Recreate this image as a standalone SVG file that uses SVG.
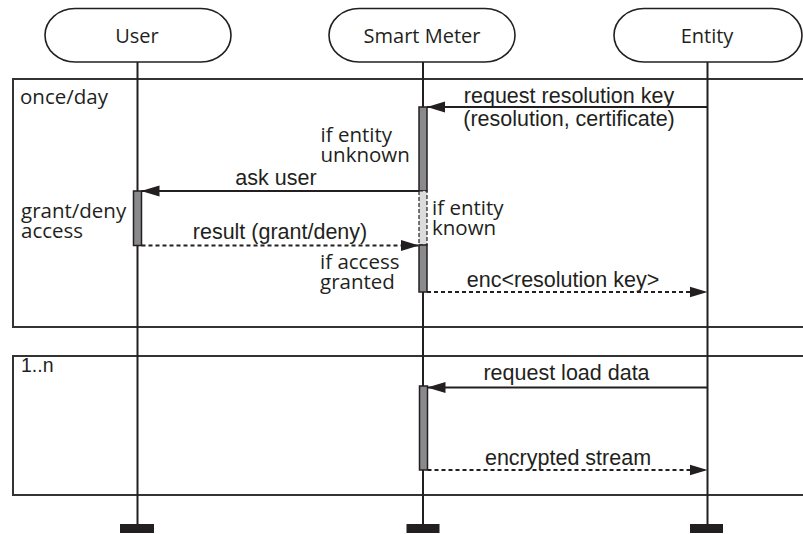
<svg xmlns="http://www.w3.org/2000/svg" width="803" height="534" viewBox="0 0 803 534">
  <style>
    .bg { fill: #ffffff; }
    .pill { fill: #ffffff; stroke: #231f20; stroke-width: 1.6; }
    .frame { fill: none; stroke: #333333; stroke-width: 2; }
    .life { stroke: #231f20; stroke-width: 2; fill: none; }
    .end { fill: #231f20; }
    .act { fill: #8a8a8c; stroke: #231f20; stroke-width: 1.5; }
    .act-opt { fill: #dcdcdc; stroke: #231f20; stroke-width: 1.2; stroke-dasharray: 4 2; }
    .msg { stroke: #231f20; stroke-width: 2; fill: none; marker-end: url(#head); }
    .ret { stroke: #231f20; stroke-width: 2; fill: none; stroke-dasharray: 4 3; marker-end: url(#head); }
    .title { font-family: "Open Sans", "DejaVu Sans", sans-serif; font-size: 20px; fill: #231f20; text-anchor: middle; }
    .note { font-family: "Open Sans", "DejaVu Sans", sans-serif; font-size: 20.5px; fill: #231f20; }
    .lbl { font-family: "Liberation Sans", Arial, sans-serif; font-size: 21.5px; fill: #231f20; text-anchor: middle; }
    .flbl { font-family: "Liberation Sans", Arial, sans-serif; font-size: 19.5px; fill: #231f20; }
  </style>
  <defs>
    <marker id="head" markerUnits="userSpaceOnUse" markerWidth="18" markerHeight="12" refX="18" refY="6" orient="auto">
      <path d="M0,0.5 L18,6 L0,11.5 Z" fill="#231f20"/>
    </marker>
  </defs>

  <rect class="bg" x="0" y="0" width="803" height="534"/>

  <!-- combined fragments -->
  <g id="frame-once-per-day">
    <path class="frame" d="M805,79 H13 V327 H805"/>
    <text class="note" x="20" y="104">once/day</text>
  </g>
  <g id="frame-repeat">
    <path class="frame" d="M805,356 H13 V495 H805"/>
    <text class="flbl" x="21" y="372">1..n</text>
  </g>

  <!-- participants with lifelines -->
  <g id="user">
    <rect class="pill" x="45" y="8.5" width="186" height="53.5" rx="30" ry="26.75"/>
    <text class="title" x="137" y="43">User</text>
    <line class="life" x1="137.5" y1="62" x2="137.5" y2="527"/>
    <rect class="end" x="120" y="524" width="34" height="9"/>
  </g>
  <g id="smart-meter">
    <rect class="pill" x="329" y="8.5" width="186" height="53.5" rx="30" ry="26.75"/>
    <text class="title" x="422" y="43">Smart Meter</text>
    <line class="life" x1="423" y1="62" x2="423" y2="527"/>
    <rect class="end" x="406.5" y="524" width="33" height="9"/>
  </g>
  <g id="entity">
    <rect class="pill" x="614" y="8.5" width="188" height="53.5" rx="30" ry="26.75"/>
    <text class="title" x="707" y="43">Entity</text>
    <line class="life" x1="707.5" y1="62" x2="707.5" y2="527"/>
    <rect class="end" x="690" y="524" width="33" height="9"/>
  </g>

  <!-- activations -->
  <g id="activations">
    <rect class="act" x="419" y="107" width="8" height="84"/>
    <rect class="act-opt" x="419" y="191" width="8" height="54"/>
    <rect class="act" x="419" y="245" width="8" height="47"/>
    <rect class="act" x="133.5" y="191" width="8" height="54.5"/>
    <rect class="act" x="419.5" y="386" width="8" height="84"/>
  </g>

  <!-- messages -->
  <g id="connectors">
    <line class="msg" x1="707.5" y1="107" x2="427" y2="107"/>
    <line class="msg" x1="419" y1="191" x2="141.5" y2="191"/>
    <line class="ret" x1="141.5" y1="245.5" x2="419" y2="245.5"/>
    <line class="ret" x1="427" y1="292" x2="707.5" y2="292"/>
    <line class="msg" x1="707.5" y1="387.5" x2="427.5" y2="387.5"/>
    <line class="ret" x1="427.5" y1="470" x2="707.5" y2="470"/>
  </g>

  <!-- message labels -->
  <g id="labels">
    <text class="lbl" x="569" y="103">request resolution key</text>
    <text class="lbl" x="569" y="126">(resolution, certificate)</text>
    <text class="lbl" x="276" y="185">ask user</text>
    <text class="lbl" x="280" y="238.5">result (grant/deny)</text>
    <text class="lbl" x="563" y="287">enc&lt;resolution key&gt;</text>
    <text class="lbl" x="566.5" y="380">request load data</text>
    <text class="lbl" x="568" y="465">encrypted stream</text>
  </g>

  <!-- guard conditions and notes -->
  <g id="notes">
    <text class="note" x="320.5" y="141.5">if entity<tspan x="320.5" dy="20">unknown</tspan></text>
    <text class="note" x="21" y="218">grant/deny<tspan x="21" dy="19.5">access</tspan></text>
    <text class="note" x="432" y="215">if entity<tspan x="432" dy="20">known</tspan></text>
    <text class="note" x="320" y="268.5">if access<tspan x="320" dy="20">granted</tspan></text>
  </g>
</svg>
